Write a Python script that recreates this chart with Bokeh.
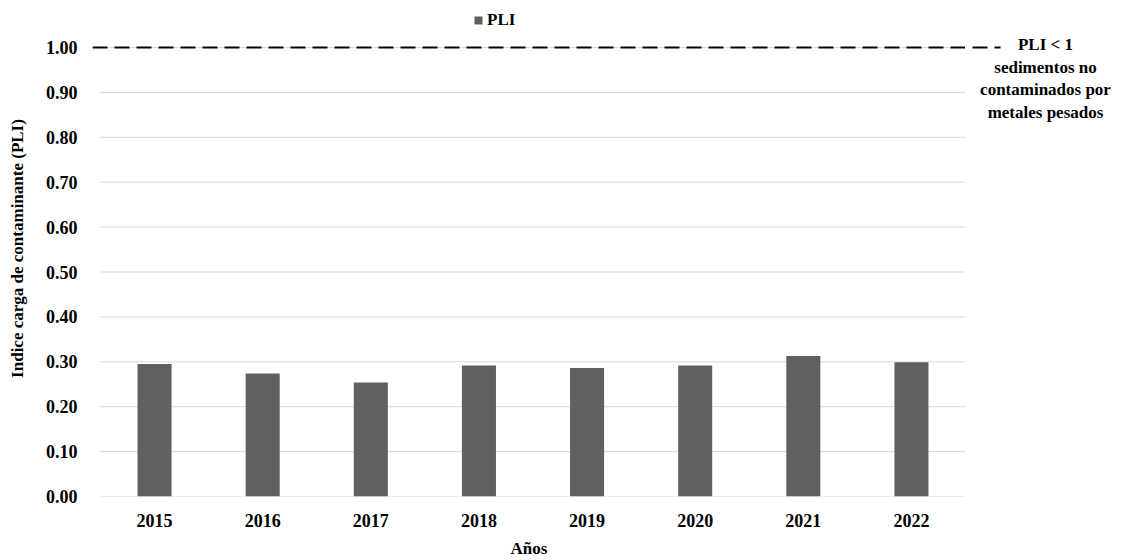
from bokeh.plotting import figure
from bokeh.layouts import row
from bokeh.models import Range1d, FixedTicker, Label, Legend, LegendItem
from bokeh.embed import file_html
from bokeh.resources import INLINE

# Pollution load index per year
years = ["2015", "2016", "2017", "2018", "2019", "2020", "2021", "2022"]
pli = [0.295, 0.274, 0.254, 0.292, 0.286, 0.292, 0.313, 0.299]

y_ticks = [0.0, 0.1, 0.2, 0.3, 0.4, 0.5, 0.6, 0.7, 0.8, 0.9, 1.0]
threshold = 1.0
threshold_note = ["PLI < 1", "sedimentos no", "contaminados por", "metales pesados"]

FONT = "Liberation Serif"
BAR = "#606060"
GRID = "#d9d9d9"
DASH = "15 7"

n = len(years)
xs = [i + 0.5 for i in range(n)]
y_range = Range1d(0, 1.1047)

# main chart
p = figure(width=965, height=560, output_backend="svg", toolbar_location=None,
           x_range=Range1d(-0.074, n), y_range=y_range,
           min_border_left=92, min_border_right=0, min_border_top=0,
           min_border_bottom=64)
p.outline_line_color = None
p.xgrid.visible = False
p.ygrid.visible = False

# horizontal gridlines spanning the category area only
p.segment(x0=[0] * len(y_ticks), x1=[n] * len(y_ticks), y0=y_ticks, y1=y_ticks,
          line_color=GRID, line_width=1)

bars = p.vbar(x=xs, top=pli, width=0.315, bottom=0, fill_color=BAR, line_color=None)

# threshold line (continues in the side panel)
p.line(x=[-0.074, n], y=[threshold, threshold],
       line_color="black", line_width=2, line_dash=DASH)

# axes
p.xaxis.ticker = FixedTicker(ticks=xs)
p.xaxis.major_label_overrides = {x: y for x, y in zip(xs, years)}
p.yaxis.ticker = FixedTicker(ticks=y_ticks)
p.yaxis.major_label_overrides = {t: f"{t:.2f}" for t in y_ticks}
for ax in (p.xaxis[0], p.yaxis[0]):
    ax.axis_line_color = None
    ax.major_tick_line_color = None
    ax.minor_tick_line_color = None
    ax.major_label_text_font = FONT
    ax.major_label_text_font_style = "bold"
    ax.major_label_text_font_size = "18px"
    ax.major_label_text_color = "black"
    ax.axis_label_text_font = FONT
    ax.axis_label_text_font_style = "bold"
    ax.axis_label_text_font_size = "17px"
    ax.axis_label_text_color = "black"
p.xaxis.major_label_standoff = 11
p.yaxis.major_label_standoff = 9
p.xaxis.axis_label = "Años"
p.xaxis.axis_label_standoff = 9
p.yaxis.axis_label = "Indice carga de contaminante (PLI)"
p.yaxis.axis_label_standoff = 16

legend = Legend(items=[LegendItem(label="PLI", renderers=[bars])],
                location=(381, 466), orientation="horizontal",
                glyph_width=10, glyph_height=10, label_text_font=FONT,
                label_text_font_style="bold", label_text_font_size="17px",
                label_text_color="black",
                label_standoff=4, padding=0, margin=0, border_line_color=None,
                background_fill_alpha=0)
p.add_layout(legend, "center")

# side panel: end of the threshold line and its note
side = figure(width=160, height=560, output_backend="svg", toolbar_location=None,
              x_range=Range1d(0, 160), y_range=y_range,
              x_axis_type=None, y_axis_type=None,
              min_border_left=0, min_border_right=0, min_border_top=0,
              min_border_bottom=64)
side.outline_line_color = None
side.line(x=[0, 35], y=[threshold, threshold], line_color="black", line_width=2,
          line_dash=DASH, line_dash_offset=15)

offsets = [3, -20, -42, -65]
for txt, dy in zip(threshold_note, offsets):
    side.add_layout(Label(x=80, y=threshold, y_offset=dy,
                          text=txt, text_align="center", text_baseline="middle",
                          text_font=FONT, text_font_style="bold",
                          text_font_size="17px", text_color="black"))

layout = row(p, side, spacing=0)
open("out.html", "w").write(file_html(layout, INLINE))
